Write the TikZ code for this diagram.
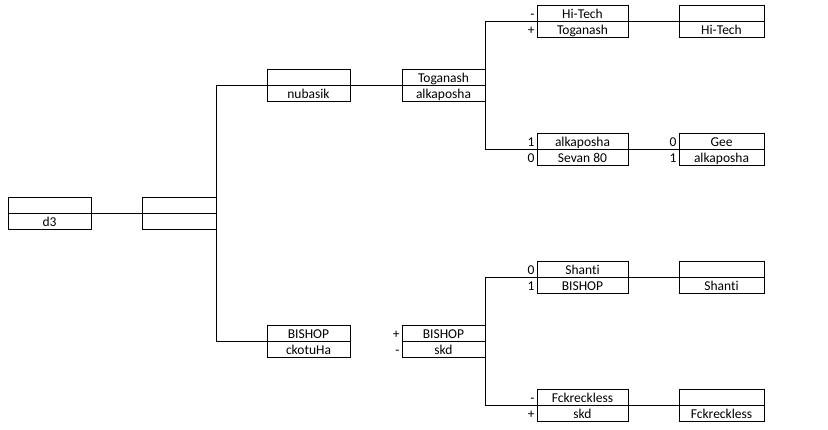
\documentclass[tikz,border=0pt]{standalone}
\usepackage{fontspec}
\setmainfont[Ligatures=NoCommon]{Carlito}
\usetikzlibrary{positioning}
\tikzset{%
	cell/.style  = {draw, rectangle, minimum height=16pt, inner sep=0pt, outer sep=0pt, text centered, text height=11pt, text depth=0pt, font=\fontsize{13.5}{15}\selectfont},
	cellA/.style = {cell, minimum width=83pt},
	cellB/.style = {cell, minimum width=74pt},
	cellE/.style = {cell, minimum width=91pt},
	cellF/.style = {cell, minimum width=85pt},
	seed/.style  = {anchor=east, inner sep=2pt, text height=11pt, text depth=0pt, font=\fontsize{13.5}{15}\selectfont},
}

\begin{document}
\begin{tikzpicture}[x=1pt,y=-1pt,line width=0.9pt]
	\useasboundingbox (0,0) rectangle (828,430);
	
	\node[cellA] (d3top) at (49.5,205) {};
	\node[cellA,below=0pt of d3top] (d3bot) {d3};
	\node[cellB] (semtop) at (179,205) {};
	\node[cellB,below=0pt of semtop] (sembot) {};
	
	\node[cellA] (nubtop) at (308.5,77) {};
	\node[cellA,below=0pt of nubtop] (nubbot) {nubasik};
	\node[cellA] (bistop) at (308.5,333) {BISHOP};
	\node[cellA,below=0pt of bistop] (bisbot) {ckotuHa};
	
	\node[cellA] (togtop) at (443.5,77) {Toganash};
	\node[cellA,below=0pt of togtop] (togbot) {alkaposha};
	\node[cellA] (skdtop) at (443.5,333) {BISHOP};
	\node[cellA,below=0pt of skdtop] (skdbot) {skd};
	\node[seed] (skdplus) at (skdtop.west) {+};
	\node[seed] (skdminus) at (skdbot.west) {-};
	
	\node[cellE] (htop) at (582.5,13) {Hi-Tech};
	\node[cellE,below=0pt of htop] (hbot) {Toganash};
	\node[cellE] (alktop) at (582.5,141) {alkaposha};
	\node[cellE,below=0pt of alktop] (alkbot) {Sevan 80};
	\node[cellE] (shatop) at (582.5,269) {Shanti};
	\node[cellE,below=0pt of shatop] (shabot) {BISHOP};
	\node[cellE] (fcktop) at (582.5,397) {Fckreckless};
	\node[cellE,below=0pt of fcktop] (fckbot) {skd};
	\node[seed] (hminus) at (htop.west) {-};
	\node[seed] (hplus) at (hbot.west) {+};
	\node[seed] (alkone) at (alktop.west) {1};
	\node[seed] (alkzero) at (alkbot.west) {0};
	\node[seed] (shazero) at (shatop.west) {0};
	\node[seed] (shaone) at (shabot.west) {1};
	\node[seed] (fckminus) at (fcktop.west) {-};
	\node[seed] (fckplus) at (fckbot.west) {+};
	
	\node[cellF] (hwtop) at (721.5,13) {};
	\node[cellF,below=0pt of hwtop] (hwbot) {Hi-Tech};
	\node[cellF] (geetop) at (721.5,141) {Gee};
	\node[cellF,below=0pt of geetop] (geebot) {alkaposha};
	\node[cellF] (swtop) at (721.5,269) {};
	\node[cellF,below=0pt of swtop] (swbot) {Shanti};
	\node[cellF] (fwtop) at (721.5,397) {};
	\node[cellF,below=0pt of fwtop] (fwbot) {Fckreckless};
	\node[seed] (geezero) at (geetop.west) {0};
	\node[seed] (geeone) at (geebot.west) {1};
	
	\draw (d3top.south east) -- (semtop.south west);
	\draw (semtop.south east) |- (nubtop.south west);
	\draw (semtop.south east) |- (bistop.south west);
	\draw (nubtop.south east) -- (togtop.south west);
	\draw (togtop.south east) |- (htop.south west);
	\draw (togtop.south east) |- (alktop.south west);
	\draw (skdtop.south east) |- (shatop.south west);
	\draw (skdtop.south east) |- (fcktop.south west);
	\draw (htop.south east) -- (hwtop.south west);
	\draw (alktop.south east) -- (geetop.south west);
	\draw (shatop.south east) -- (swtop.south west);
	\draw (fcktop.south east) -- (fwtop.south west);
\end{tikzpicture}
\end{document}
